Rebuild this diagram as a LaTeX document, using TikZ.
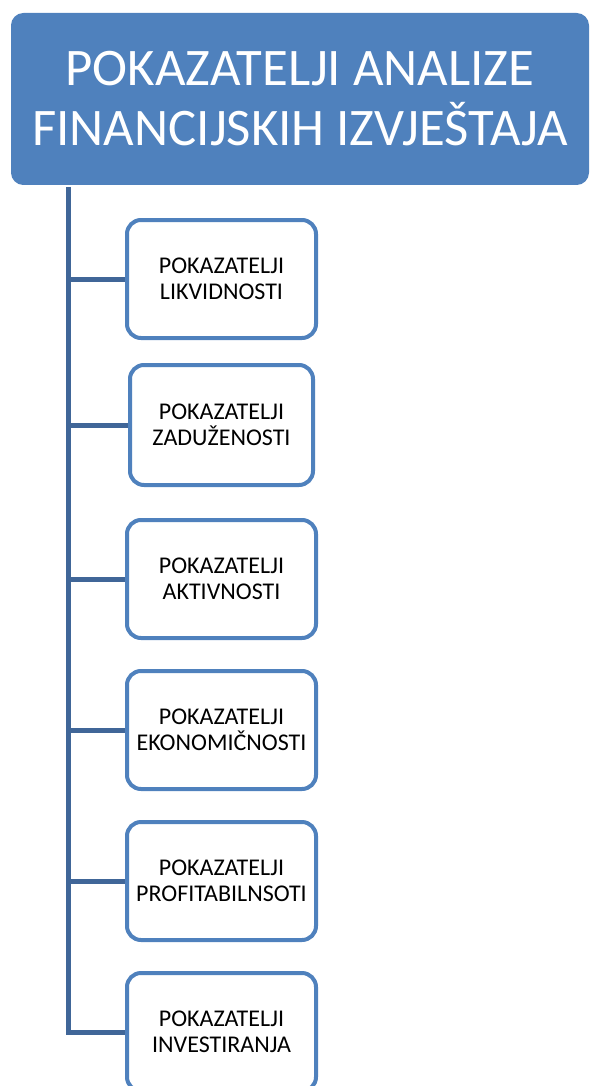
\documentclass[tikz,border=0pt]{standalone}
\usepackage{fontspec}
\setmainfont{Carlito}
\usetikzlibrary{positioning}
\definecolor{titleblue}{RGB}{79,129,189}
\definecolor{trunkblue}{RGB}{64,102,152}

\begin{document}
\begin{tikzpicture}[x=1pt, y=-1pt,
    title/.style={draw=titleblue, fill=titleblue, line width=1pt, rounded corners=12pt, text=white, minimum width=577pt, minimum height=171pt, align=center, font=\fontsize{52.8}{60}\selectfont},
    box/.style={draw=titleblue, fill=white, line width=4pt, rounded corners=14pt, minimum width=189pt, minimum height=118pt, align=center, font=\fontsize{24}{26.5}\selectfont},
    trunk/.style={draw=trunkblue, line width=5pt}
]
\useasboundingbox (0,0) rectangle (591,1086);

% Head
\node[title] (head) at (300,99) {POKAZATELJI ANALIZE\\FINANCIJSKIH IZVJEŠTAJA};

% Groups of ratios
\node[box] (likv) at (221.5,279) {POKAZATELJI\\LIKVIDNOSTI};
\node[box, minimum width=183pt, minimum height=120pt, below=23pt of likv] (zad) {POKAZATELJI\\ZADUŽENOSTI};
\node[box, below=31pt of zad] (akt) {POKAZATELJI\\AKTIVNOSTI};
\node[box, below=29pt of akt] (ekon) {POKAZATELJI\\EKONOMIČNOSTI};
\node[box, below=29pt of ekon] (prof) {POKAZATELJI\\PROFITABILNSOTI};
\node[box, below=29pt of prof] (inv) {POKAZATELJI\\INVESTIRANJA};

% Trunk and branches
\coordinate (top) at (68,187);
\draw[trunk] (top) |- (inv.west);
\foreach \n in {likv,zad,akt,ekon,prof}
    \draw[trunk] (top |- \n.west) -- (\n.west);

\end{tikzpicture}
\end{document}
